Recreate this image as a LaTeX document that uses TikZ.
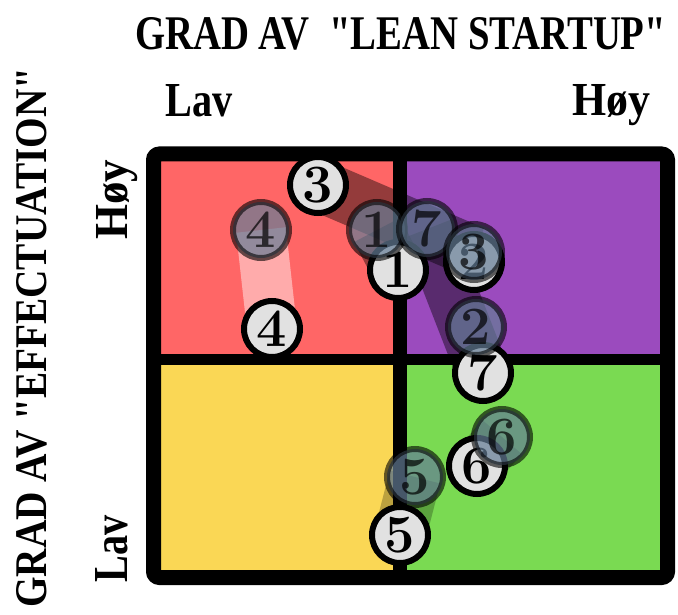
\documentclass[tikz,border=0pt]{standalone}
\usepackage{fontspec}
\usepackage{graphicx}
\newfontfamily\labfont{Liberation Serif}
\definecolor{qred}{RGB}{255,102,102}
\definecolor{qpurple}{RGB}{155,75,190}
\definecolor{qyellow}{RGB}{250,215,85}
\definecolor{qgreen}{RGB}{122,218,82}
\definecolor{solidfill}{RGB}{225,225,225}
\definecolor{slate}{RGB}{100,125,150}
\begin{document}
\begin{tikzpicture}[x=1pt,y=-1pt,
  solidc/.style={circle,draw=black,fill=solidfill,line width=6pt,minimum size=56pt,inner sep=0pt,font=\fontsize{54}{54}\selectfont\bfseries},
  ghostc/.style={circle,draw=black,draw opacity=0.6,fill=slate,fill opacity=0.7,text opacity=0.7,line width=6pt,minimum size=56pt,inner sep=0pt,font=\fontsize{54}{54}\selectfont\bfseries},
  darkband/.style={line width=52pt,draw=black,draw opacity=0.42},
  lightband/.style={line width=50pt,draw=white,draw opacity=0.45},
  lbl/.style={inner sep=0pt,anchor=base west}]
\useasboundingbox (0,0) rectangle (678,615);
% quadrants
\fill[qred] (153,154) rectangle (400,360);
\fill[qpurple] (400,154) rectangle (668,360);
\fill[qyellow] (153,360) rectangle (400,578);
\fill[qgreen] (400,360) rectangle (668,578);
\draw[line width=14pt] (400,154) -- (400,578);
\draw[line width=11pt] (153,359.5) -- (668,359.5);
\draw[line width=15pt,rounded corners=6pt] (153.5,154) rectangle (667.5,577.5);
% labels
\node[lbl] (title) at (135,50) {\resizebox{531pt}{32pt}{\labfont\bfseries GRAD AV\ \ "LEAN STARTUP"}};
\node[lbl] (xlow) at (165,117) {\resizebox{67pt}{32pt}{\labfont\bfseries Lav}};
\node[lbl] (xhigh) at (572,116) {\resizebox{78pt}{31pt}{\labfont\bfseries Høy}};
\node[lbl,rotate=90] (ytitle) at (46,608) {\resizebox{540pt}{30pt}{\labfont\bfseries GRAD AV "EFFECTUATION"}};
\node[lbl,rotate=90] (yhigh) at (127,240) {\resizebox{80pt}{31pt}{\labfont\bfseries Høy}};
\node[lbl,rotate=90] (ylow) at (127,583) {\resizebox{67pt}{32pt}{\labfont\bfseries Lav}};
% coordinates of circles
\coordinate (p3) at (318,185);
\coordinate (p4) at (272,329);
\coordinate (p1) at (398,270);
\coordinate (p2) at (474,262);
\coordinate (p7) at (483,373);
\coordinate (p6) at (477,466);
\coordinate (p5) at (400,535);
\coordinate (q4) at (261,230);
\coordinate (q1) at (377,230);
\coordinate (q7) at (427,229);
\coordinate (q3) at (474,252);
\coordinate (q2) at (476,327);
\coordinate (q6) at (502,437);
\coordinate (q5) at (415,477);
% bands
\draw[lightband] (q4) -- (p4);
\draw[darkband] (p3) -- (q3);
\draw[darkband] (q7) -- (p7);
\draw[darkband] (p1) -- (q1);
\draw[darkband,draw opacity=0.25] (q5) -- (p5);
\draw[darkband,draw opacity=0.25] (p6) -- (q6);
% solid circles
\node[solidc] (s3) at (p3) {3};
\node[solidc] (s4) at (p4) {4};
\node[solidc] (s1) at (p1) {1};
\node[solidc] (s2) at (p2) {2};
\node[solidc] (s7) at (p7) {7};
\node[solidc] (s6) at (p6) {6};
% ghost circles
\node[ghostc] (t4) at (q4) {4};
\node[ghostc] (t1) at (q1) {1};
\node[ghostc] (t7) at (q7) {7};
\node[ghostc] (t3) at (q3) {3};
\node[ghostc] (t2) at (q2) {2};
\node[ghostc] (t6) at (q6) {6};
\node[ghostc] (t5) at (q5) {5};
\node[solidc] (s5) at (p5) {5};
\end{tikzpicture}
\end{document}
